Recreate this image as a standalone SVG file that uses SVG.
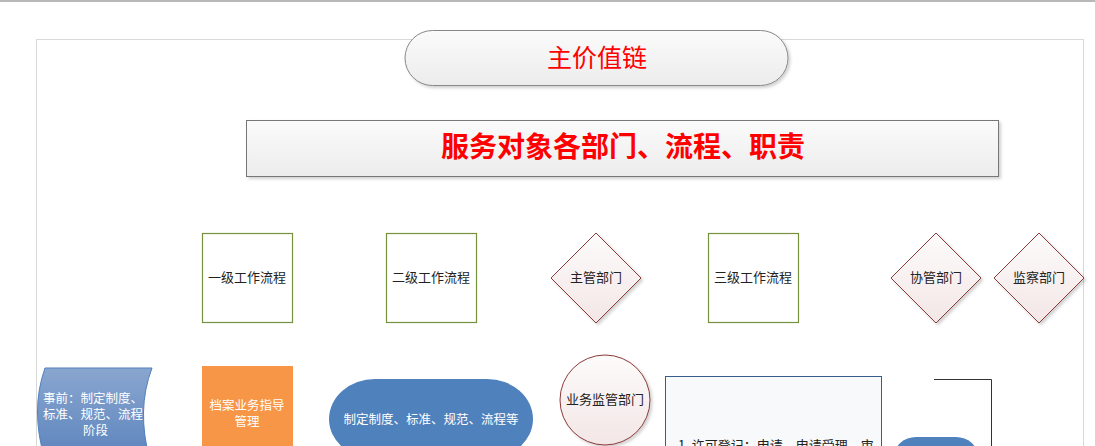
<svg xmlns="http://www.w3.org/2000/svg" width="1095" height="446" viewBox="0 0 1095 446">
<defs>
<linearGradient id="gGray" x1="0" y1="0" x2="0" y2="1"><stop offset="0" stop-color="#fbfbfb"/><stop offset="1" stop-color="#ececec"/></linearGradient>
<linearGradient id="gPink" x1="0" y1="0" x2="0" y2="1"><stop offset="0" stop-color="#fdfbfb"/><stop offset="1" stop-color="#f3e6e6"/></linearGradient>
<linearGradient id="gBlue" x1="0" y1="0" x2="0" y2="1"><stop offset="0" stop-color="#8aa6cf"/><stop offset="1" stop-color="#5b84bd"/></linearGradient>
<filter id="sh" x="-10%" y="-10%" width="130%" height="130%"><feDropShadow dx="2" dy="2" stdDeviation="1.5" flood-color="#000" flood-opacity="0.18"/></filter>
<style>
.t{font-family:"Noto Sans CJK SC","Noto Sans",sans-serif;font-size:13px;fill:#222;text-anchor:middle}
.w{fill:#fff;font-size:12.5px}
.sq{fill:#fff;stroke:#76923c;stroke-width:1.2}
.dm{fill:url(#gPink);stroke:#8c3a38;stroke-width:1;filter:url(#sh)}
</style>
</defs>
<rect width="1095" height="446" fill="#fff"/>
<line x1="0" y1="1" x2="1095" y2="1" stroke="#b8b8b8" stroke-width="2"/>
<rect x="36.5" y="39.5" width="1047" height="420" fill="none" stroke="#d9d9d9"/>

<g id="title">
<rect x="405" y="30.5" width="383" height="55" rx="27.5" fill="url(#gGray)" stroke="#888" filter="url(#sh)"/>
<text x="597" y="67" class="t" style="font-size:25px;fill:#f00">主价值链</text>
</g>
<g id="banner">
<rect x="246.5" y="120.5" width="752" height="56" fill="url(#gGray)" stroke="#777" filter="url(#sh)"/>
<text x="623" y="157" class="t" style="font-size:28px;font-weight:bold;fill:#f00">服务对象各部门、流程、职责</text>
</g>

<g id="n1"><rect x="202.5" y="233.5" width="90" height="89" class="sq"/><text x="247" y="282" class="t">一级工作流程</text></g>
<g id="n2"><rect x="386.5" y="233.5" width="90" height="89" class="sq"/><text x="431" y="282" class="t">二级工作流程</text></g>
<g id="n3"><path d="M596,233 L641,278 L596,323 L551,278 Z" class="dm"/><text x="596" y="282" class="t">主管部门</text></g>
<g id="n4"><rect x="708.5" y="233.5" width="90" height="89" class="sq"/><text x="753" y="282" class="t">三级工作流程</text></g>
<g id="n5"><path d="M936,233 L981,278 L936,323 L891,278 Z" class="dm"/><text x="936" y="282" class="t">协管部门</text></g>
<g id="n6"><path d="M1039,233 L1084,278 L1039,323 L994,278 Z" class="dm"/><text x="1039" y="282" class="t">监察部门</text></g>

<g id="n7">
<path d="M45,368 L152,368 Q136,410 150,460 L45,460 Q30,410 45,368 Z" fill="url(#gBlue)" stroke="#4f81bd"/>
<text class="t w" style="text-anchor:start"><tspan x="43" y="403">事前：制定制度、</tspan><tspan x="43" y="419">标准、规范、流程</tspan><tspan x="83" y="435">阶段</tspan></text>
</g>
<g id="n8">
<rect x="202" y="366" width="91" height="90" fill="#f79646"/>
<text class="t w"><tspan x="247" y="410">档案业务指导</tspan><tspan x="247" y="426">管理</tspan></text>
</g>
<g id="n9">
<rect x="329" y="379" width="204" height="80" rx="46" ry="40" fill="#4f81bd"/>
<text x="431" y="424" class="t w">制定制度、标准、规范、流程等</text>
</g>
<g id="n10">
<circle cx="605" cy="400" r="45" fill="url(#gPink)" stroke="#8c3a38" filter="url(#sh)"/>
<text x="605" y="404" class="t">业务监管部门</text>
</g>
<g id="n11">
<rect x="665.5" y="376.5" width="216" height="90" fill="#f8f9fb" stroke="#385d8a"/>
<text x="678" y="450" class="t" style="text-anchor:start">1. 许可登记：申请、申请受理、审</text>
</g>
<g id="n12">
<rect x="894" y="437" width="84" height="40" rx="22" fill="#4f81bd"/>
</g>
<g id="connectors">
<path d="M934,379.5 H991.5 V446" fill="none" stroke="#333" stroke-width="1"/>
</g>
</svg>
